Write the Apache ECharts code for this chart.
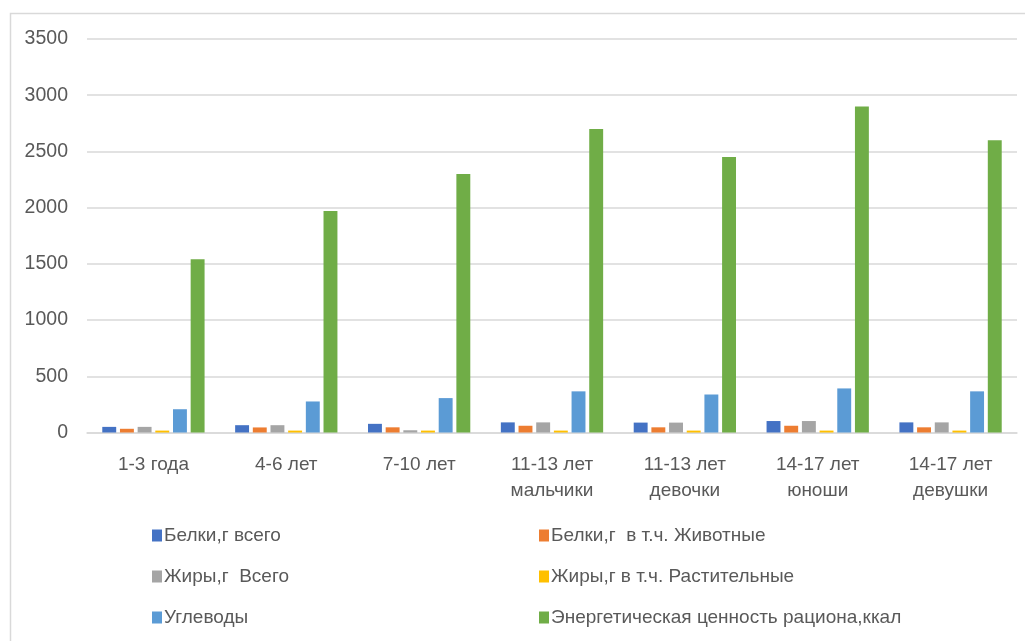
<!DOCTYPE html>
<html><head><meta charset="utf-8">
<script src="https://cdn.jsdelivr.net/npm/echarts@6/dist/echarts.min.js"></script>
<style>html,body{margin:0;padding:0;background:#fff}#c{width:1025px;height:641px}</style>
</head><body><div id="c"></div>
<script>
const categories = ['1-3 года','4-6 лет','7-10 лет','11-13 лет\nмальчики','11-13 лет\nдевочки','14-17 лет\nюноши','14-17 лет\nдевушки'];
const seriesNames = ['Белки,г всего','Белки,г  в т.ч. Животные','Жиры,г  Всего','Жиры,г в т.ч. Растительные','Углеводы','Энергетическая ценность рациона,ккал'];
const proteinTotal = [50, 65, 77, 90, 88, 102, 90];
const proteinAnimal = [33, 45, 46, 60, 46, 60, 46];
const fatTotal = [50, 65, 20, 90, 88, 102, 90];
const fatVegetable = [17, 17, 17, 17, 17, 17, 17];
const carbs = [207, 276, 306, 366, 338, 392, 366];
const energy = [1540, 1970, 2300, 2700, 2450, 2900, 2600];
const yTicks = [0, 500, 1000, 1500, 2000, 2500, 3000, 3500];
const colors = ['#4472C4','#ED7D31','#A5A5A5','#FFC000','#5B9BD5','#70AD47'];
const allValues = [proteinTotal, proteinAnimal, fatTotal, fatVegetable, carbs, energy];

const font = 'Liberation Sans';
const txt = '#595959';
const chart = echarts.init(document.getElementById('c'));
chart.setOption({
  animation: false,
  textStyle: {fontFamily: font},
  graphic: [{type:'polyline', shape:{points:[[10.5,641],[10.5,13.5],[1025,13.5]]}, style:{stroke:'#D9D9D9', lineWidth:1.5, fill:null}}],
  grid: {left: 87, right: 8, top: 39, bottom: 208.5, containLabel: false},
  legend: [
    {left: 147, top: 521, orient: 'vertical', itemGap: 22, itemWidth: 10, itemHeight: 12,
     icon: 'rect', textStyle: {color: txt, fontSize: 19, fontFamily: font, padding:[0,0,0,-3]},
     data: [seriesNames[0], seriesNames[2], seriesNames[4]]},
    {left: 534, top: 521, orient: 'vertical', itemGap: 22, itemWidth: 10, itemHeight: 12,
     icon: 'rect', textStyle: {color: txt, fontSize: 19, fontFamily: font, padding:[0,0,0,-3]},
     data: [seriesNames[1], seriesNames[3], seriesNames[5]]}
  ],
  xAxis: {
    type: 'category', data: categories,
    axisLine: {lineStyle: {color: '#D9D9D9', width: 1.5}},
    axisTick: {show: false},
    axisLabel: {color: txt, fontSize: 19, margin: 19, lineHeight: 26, fontFamily: font, interval: 0}
  },
  yAxis: {
    type: 'value', min: 0, max: 3500, interval: 500,
    axisLine: {show: false}, axisTick: {show: false},
    splitLine: {lineStyle: {color: '#D9D9D9', width: 1.5}},
    axisLabel: {color: txt, fontSize: 19.5, margin: 19, fontFamily: font,
      formatter: v => yTicks.includes(v) ? String(v) : ''}
  },
  series: seriesNames.map((n, i) => ({
    name: n, type: 'bar', data: allValues[i],
    itemStyle: {color: colors[i]},
    barGap: '27%', barCategoryGap: '23%'
  }))
});
</script></body></html>
